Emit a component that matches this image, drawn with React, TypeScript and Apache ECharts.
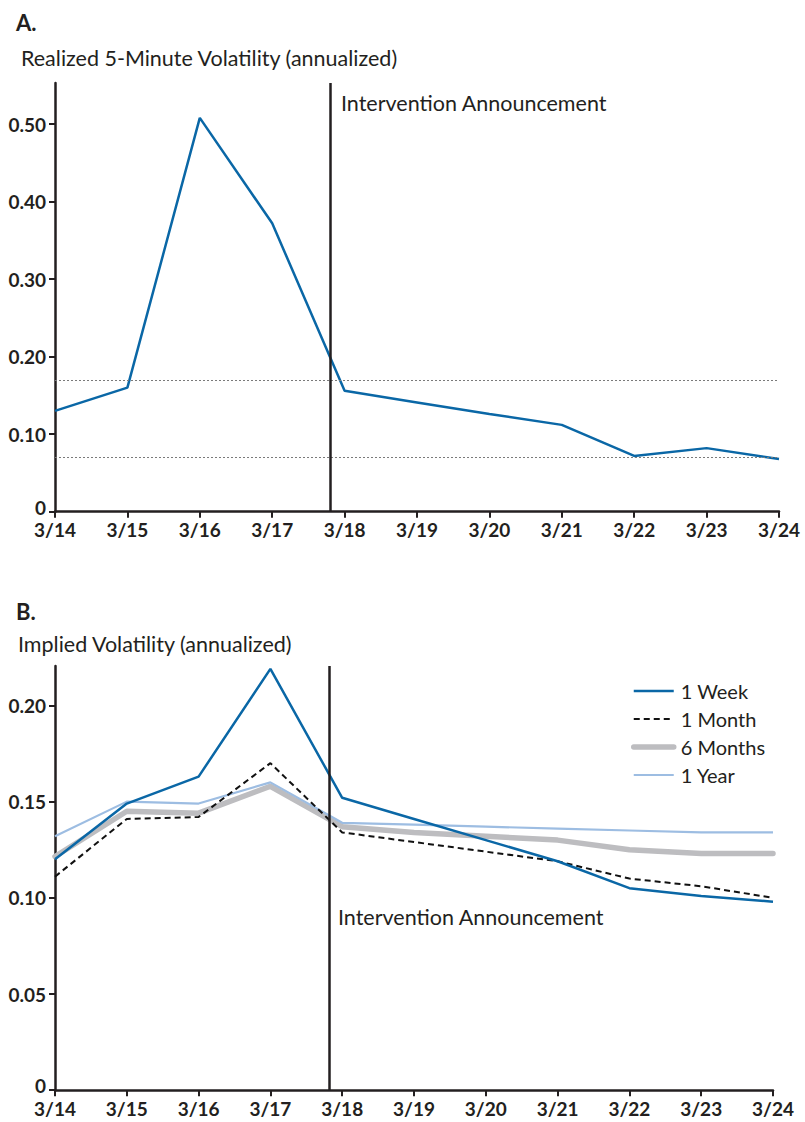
import React, { useEffect, useRef } from "react";
import * as echarts from "echarts";

const dates = ["3/14", "3/15", "3/16", "3/17", "3/18", "3/19", "3/20", "3/21", "3/22", "3/23", "3/24"];
const realized = [0.13, 0.16, 0.508, 0.372, 0.156, 0.141, 0.126, 0.112, 0.072, 0.082, 0.068];
const realizedRefLines = [0.167, 0.075];
const week1 = [0.12, 0.149, 0.163, 0.219, 0.152, 0.141, 0.13, 0.119, 0.105, 0.101, 0.098];
const month1 = [0.111, 0.141, 0.142, 0.17, 0.134, 0.129, 0.124, 0.119, 0.11, 0.106, 0.1];
const month6 = [0.1215, 0.145, 0.144, 0.158, 0.137, 0.134, 0.132, 0.13, 0.125, 0.123, 0.123];
const year1 = [0.132, 0.15, 0.149, 0.16, 0.139, 0.138, 0.137, 0.136, 0.135, 0.134, 0.134];
const yTicksA = [0, 0.1, 0.2, 0.3, 0.4, 0.5];
const yTicksB = [0, 0.05, 0.1, 0.15, 0.2];
const interventionA = 3.8;
const interventionB = 3.82;

const FONT = "Lato, 'Open Sans', sans-serif";
const INK = "#231f20";
const BLUE = "#0a67a6";
const GRAY = "#bdbdc0";
const LIGHT = "#9dbde2";

const pairs = (arr: number[]) => arr.map((v, i) => [i, v]);

export default function App() {
  const ref = useRef<HTMLDivElement>(null);
  useEffect(() => {
    document.body.style.margin = "0";
    const chart = echarts.init(ref.current!, null, { renderer: "svg" });
    const xAxisBase = (gridIndex: number) => ({
      type: "value",
      gridIndex,
      min: 0,
      max: dates.length - 1,
      interval: 1,
      axisLine: { show: true, lineStyle: { color: INK, width: 2.5 } },
      axisTick: { show: true, length: 6, lineStyle: { color: INK, width: 2 } },
      axisLabel: {
        color: INK,
        fontFamily: FONT,
        fontWeight: "bold",
        fontSize: 19,
        lineHeight: 18,
        margin: 9,
        formatter: (v: number) => dates[Math.round(v)] ?? "",
      },
      splitLine: { show: false },
    });
    const yAxisBase = (gridIndex: number, max: number, ticks: number[]) => ({
      type: "value",
      gridIndex,
      min: 0,
      max,
      axisLine: { show: true, lineStyle: { color: INK, width: 2.5 } },
      axisTick: { show: true, length: 6, customValues: ticks, lineStyle: { color: INK, width: 2 } },
      axisLabel: {
        customValues: ticks,
        color: INK,
        fontFamily: FONT,
        fontWeight: "bold",
        fontSize: 19,
        lineHeight: 16,
        margin: 9,
        formatter: (v: number) => (v === 0 ? "{z|0}" : v.toFixed(2)),
        rich: {
          z: { fontFamily: FONT, fontWeight: "bold", fontSize: 19, lineHeight: 16, color: INK, padding: [0, 0, 9, 0] },
        },
      },
      splitLine: { show: false },
    });
    const legendItem = (name: string, width: number) => ({
      name,
      itemStyle: { opacity: 0 },
      lineStyle: { width },
    });
    const option: any = {
      animation: false,
      backgroundColor: "#ffffff",
      textStyle: { fontFamily: FONT },
      title: [
        { text: "A.", left: 11, top: 6, textStyle: { fontFamily: FONT, fontSize: 22, fontWeight: "bold", color: INK } },
        { text: "Realized 5-Minute Volatility (annualized)", left: 16, top: 42, textStyle: { fontFamily: FONT, fontSize: 21.5, fontWeight: "normal", color: INK } },
        { text: "B.", left: 11, top: 595, textStyle: { fontFamily: FONT, fontSize: 22, fontWeight: "bold", color: INK } },
        { text: "Implied Volatility (annualized)", left: 13, top: 628, textStyle: { fontFamily: FONT, fontSize: 21.5, fontWeight: "normal", color: INK } },
      ],
      grid: [
        { left: 55, right: 26, top: 83, height: 428.7 },
        { left: 55, right: 32, top: 666, height: 424.2 },
      ],
      xAxis: [xAxisBase(0), xAxisBase(1)],
      yAxis: [yAxisBase(0, 0.553, yTicksA), yAxisBase(1, 0.2205, yTicksB)],
      legend: {
        orient: "vertical",
        left: 626,
        top: 676,
        itemWidth: 40,
        itemHeight: 10,
        itemGap: 8,
        data: [legendItem("1 Week", 2.5), legendItem("1 Month", 2), legendItem("6 Months", 5.5), legendItem("1 Year", 2.2)],
        textStyle: { fontFamily: FONT, fontSize: 20, color: INK, padding: [0, 0, 0, 2] },
      },
      graphic: [
        { type: "text", left: 341, top: 92, style: { text: "Intervention Announcement", fontFamily: FONT, fontSize: 21.5, fill: INK } },
        { type: "text", left: 338, top: 906, style: { text: "Intervention Announcement", fontFamily: FONT, fontSize: 21.5, fill: INK } },
      ],
      series: [
        {
          name: "Realized",
          type: "line",
          xAxisIndex: 0,
          yAxisIndex: 0,
          data: pairs(realized),
          symbol: "none",
          lineStyle: { color: BLUE, width: 2.5 },
          markLine: {
            silent: true,
            symbol: "none",
            label: { show: false },
            data: [
              ...realizedRefLines.map((v) => ({ yAxis: v, lineStyle: { color: "#7a7a7a", width: 1, type: [2, 2] } })),
              { xAxis: interventionA, lineStyle: { color: INK, width: 2.5, type: "solid" } },
            ],
          },
        },
        {
          name: "6 Months",
          type: "line",
          xAxisIndex: 1,
          yAxisIndex: 1,
          data: pairs(month6),
          symbol: "none",
          color: GRAY,
          lineStyle: { color: GRAY, width: 5.5, cap: "round" },
          markLine: {
            silent: true,
            symbol: "none",
            label: { show: false },
            data: [{ xAxis: interventionB, lineStyle: { color: INK, width: 2.5, type: "solid" } }],
          },
        },
        {
          name: "1 Year",
          type: "line",
          xAxisIndex: 1,
          yAxisIndex: 1,
          data: pairs(year1),
          symbol: "none",
          color: LIGHT,
          lineStyle: { color: LIGHT, width: 2.2 },
        },
        {
          name: "1 Month",
          type: "line",
          xAxisIndex: 1,
          yAxisIndex: 1,
          data: pairs(month1),
          symbol: "none",
          color: "#111111",
          lineStyle: { color: "#111111", width: 2, type: [6, 4] },
        },
        {
          name: "1 Week",
          type: "line",
          xAxisIndex: 1,
          yAxisIndex: 1,
          data: pairs(week1),
          symbol: "none",
          color: BLUE,
          lineStyle: { color: BLUE, width: 2.5 },
        },
      ],
    };
    chart.setOption(option);
    return () => chart.dispose();
  }, []);
  return <div ref={ref} style={{ width: 805, height: 1122 }} />;
}
